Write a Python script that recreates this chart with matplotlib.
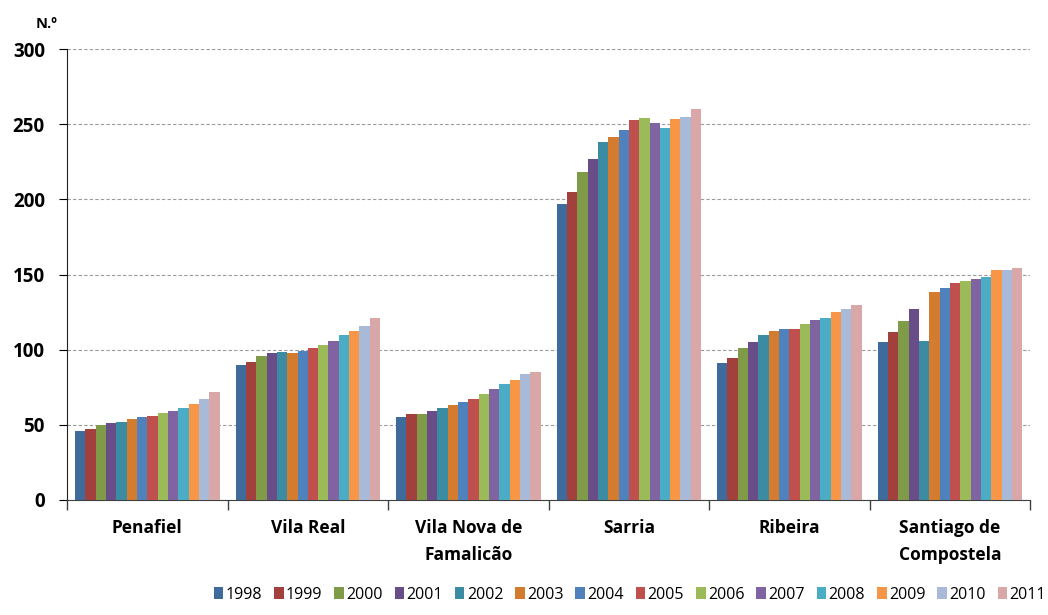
import numpy as np
import matplotlib
matplotlib.use('Agg')
import matplotlib.pyplot as plt

plt.rcParams['font.family'] = ['Open Sans', 'DejaVu Sans']

# Concelhos e anos
categorias = ['Penafiel', 'Vila Real', 'Vila Nova de\nFamalicão', 'Sarria',
              'Ribeira', 'Santiago de\nCompostela']
anos = ['1998', '1999', '2000', '2001', '2002', '2003', '2004',
        '2005', '2006', '2007', '2008', '2009', '2010', '2011']

# Valores por concelho (um valor por ano, 1998-2011)
penafiel = [46, 47, 50, 51, 52, 54, 55, 56, 58, 59, 61, 64, 67, 72]
vila_real = [90, 92, 96, 98, 98.5, 98, 99, 101, 103, 106, 109.5, 112.5, 115.5, 121]
famalicao = [55, 57, 57, 59.5, 61, 63.5, 65.5, 67.5, 70.5, 74, 77, 80, 84, 85]
sarria = [197, 205, 218, 227, 238, 241.5, 246.5, 253, 254.5, 251, 247.5, 253.5, 255, 260]
ribeira = [91.5, 94.5, 101, 105, 109.5, 112.5, 113.5, 113.5, 117, 119.5, 121, 125, 127, 130]
santiago = [105, 112, 119, 127, 106, 138.5, 141, 144.5, 146, 147, 148.5, 153, 153, 154.5]

cores = ['#3F6A9C', '#A2403E', '#7F9B48', '#684D89', '#3B8CA2', '#D37B2F',
         '#4F81BD', '#C0504D', '#9BBB59', '#8064A2', '#4BACC6', '#F79646',
         '#A9BAD8', '#D9A7A7']

valores = np.array([penafiel, vila_real, famalicao, sarria, ribeira, santiago])

fig = plt.figure(figsize=(10.48, 6.15), dpi=100)
ax = fig.add_axes([0.064, 0.187, 0.919, 0.733])

x = np.arange(len(categorias))
largura = 0.9 / len(anos)
for i, ano in enumerate(anos):
    pos = x - 0.45 + largura * (i + 0.5)
    ax.bar(pos, valores[:, i], width=largura, color=cores[i], label=ano,
           linewidth=0, zorder=3)

ax.set_xlim(-0.5, len(categorias) - 0.5)
ax.set_ylim(0, 300)
ax.set_yticks(range(0, 301, 50))
ax.yaxis.grid(True, linestyle=(0, (3, 2)), color='#9a9a9a', linewidth=0.8, zorder=0)

# rótulos no centro dos grupos, marcas nas divisões
ax.set_xticks(x)
ax.set_xticklabels(categorias, fontsize=12.5, fontweight='bold', linespacing=1.6)
ax.tick_params(axis='x', which='major', length=0, pad=14)
ax.set_xticks(np.arange(-0.5, len(categorias)), minor=True)
ax.tick_params(axis='x', which='minor', length=7, width=1, color='#404040')
ax.tick_params(axis='y', length=6, width=0.8, labelsize=13.5, pad=10)
for lbl in ax.get_yticklabels():
    lbl.set_fontweight('bold')

ax.spines['top'].set_visible(False)
ax.spines['right'].set_visible(False)
ax.spines['left'].set_color('#202020')
ax.spines['bottom'].set_color('#404040')

fig.text(0.034, 0.955, 'N.º', fontsize=10.5, fontweight='bold')

fig.legend(loc='center', bbox_to_anchor=(0.601, 0.033), ncol=14, frameon=False,
           fontsize=11.5, handlelength=0.6, handleheight=0.75, handletextpad=0.15,
           columnspacing=0.74, borderaxespad=0, borderpad=0)

fig.savefig('out.png', dpi=100)
